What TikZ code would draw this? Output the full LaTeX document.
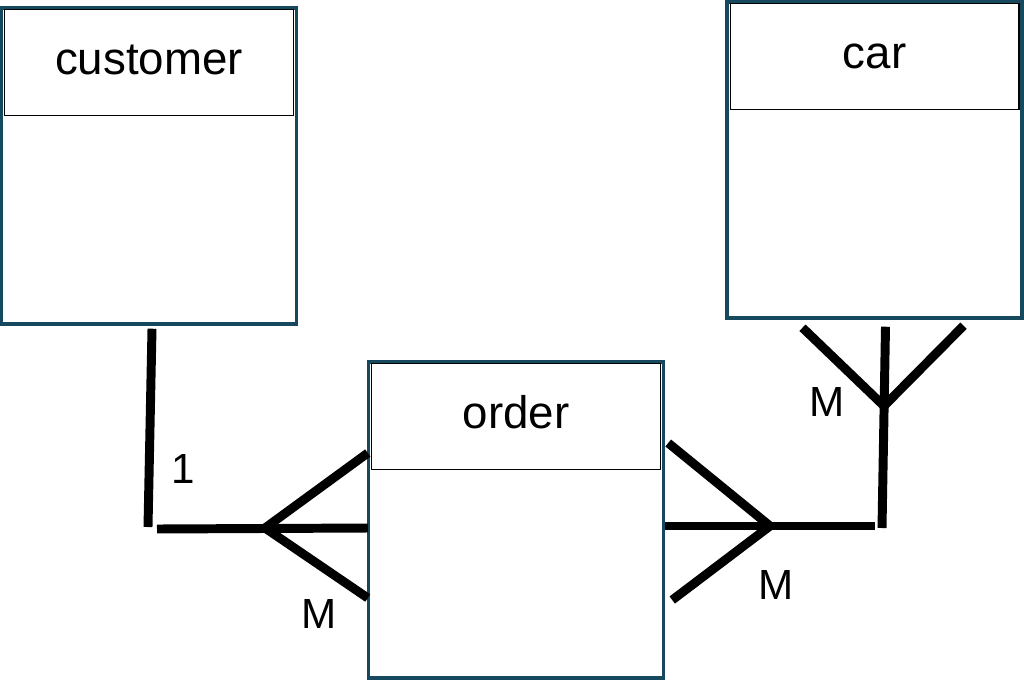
\documentclass[tikz,border=0pt]{standalone}
\usepackage{fontspec}
\setmainfont{Liberation Sans}
\usetikzlibrary{positioning,calc}
\definecolor{boxblue}{RGB}{22,72,94}

\begin{document}
\begin{tikzpicture}[x=0.02cm, y=-0.02cm,
    entity/.style={draw=boxblue, line width=2pt, fill=white, inner sep=0pt,
      minimum width=5.9cm, minimum height=6.32cm},
    title/.style={draw=black, line width=0.6pt, inner sep=0pt, anchor=north, yshift=-1.7pt,
      minimum width=5.78cm, minimum height=2.12cm, text height=13.5pt, text depth=0pt,
      font=\fontsize{26}{30}\selectfont},
    rel/.style={line width=5.1pt, black},
    card/.style={inner sep=0pt, font=\fontsize{24}{28}\selectfont}]
  \useasboundingbox (0,0) rectangle (1024,680);

  % Entities
  \node[entity] (customer) at (149,166) {};
  \node[title] (customer-t) at (customer.north) {customer};
  \node[entity] (car) at (874.5,160) {};
  \node[title] (car-t) at (car.north) {car};
  \node[entity] (order) at (516,520) {};
  \node[title] (order-t) at (order.north) {order};

  % customer -- order
  \coordinate (kneeL) at (148,527);
  \coordinate (crowL) at (265,528);
  \draw[rel] ($(customer.south)+(3,3)$) -- (kneeL);
  \draw[rel] ($(kneeL)+(9,2)$) -- ($(order.west)+(1,8)$);
  \draw[rel] ($(order.west)+(1,-67)$) -- (crowL);
  \draw[rel] ($(order.west)+(1,78)$) -- (crowL);

  % order -- car
  \coordinate (kneeR) at (882,528);
  \coordinate (crowR) at (770,526);
  \coordinate (crowC) at (884,406);
  \draw[rel] ($(order.east)+(0,6)$) -- ($(kneeR)+(-7,-2)$);
  \draw[rel] ($(order.east)+(3,-77)$) -- (crowR);
  \draw[rel] ($(order.east)+(7,80)$) -- (crowR);
  \draw[rel] ($(car.south)+(11,7)$) -- (kneeR);
  \draw[rel] ($(car.south)+(-72,8)$) -- (crowC);
  \draw[rel] ($(car.south)+(89,6)$) -- (crowC);

  % Cardinalities
  \node[card] (one) at (183,469) {1};
  \node[card] (many-l) at (319,614) {M};
  \node[card] (many-r) at (776,585) {M};
  \node[card] (many-c) at (827,402) {M};
\end{tikzpicture}
\end{document}
